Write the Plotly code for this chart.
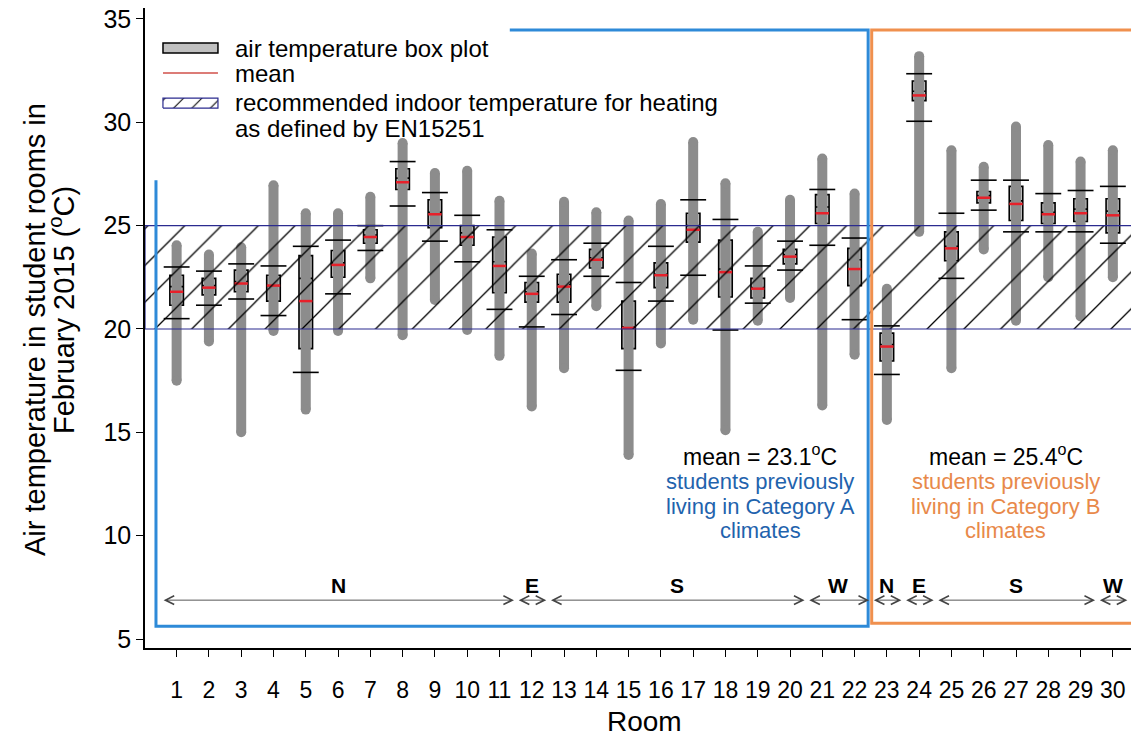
import plotly.graph_objects as go

rooms = list(range(1, 31))
data_min = [17.5, 19.4, 15.0, 19.9, 16.1, 19.9, 22.45, 19.7, 21.4, 19.95,
            18.7, 16.25, 18.1, 21.1, 13.9, 19.3, 20.45, 15.1, 20.4, 21.5,
            16.3, 18.75, 15.6, 24.7, 18.1, 23.85, 20.4, 22.5, 20.6, 22.5]
data_max = [24.05, 23.6, 23.95, 26.95, 25.6, 25.6, 26.4, 29.0, 27.55, 27.65,
            26.2, 23.65, 26.15, 25.65, 25.25, 26.05, 29.05, 27.05, 24.7, 26.25,
            28.25, 26.55, 21.95, 33.2, 28.65, 27.85, 29.8, 28.9, 28.1, 28.65]
whisk_lo = [20.5, 21.15, 21.45, 20.65, 17.9, 21.7, 23.8, 25.95, 24.25, 23.25,
            20.95, 20.1, 20.7, 22.55, 18.0, 21.35, 22.6, 19.95, 21.25, 22.85,
            24.05, 20.45, 17.8, 30.05, 22.45, 25.75, 24.7, 24.7, 24.7, 24.15]
whisk_hi = [23.0, 22.8, 23.15, 23.05, 24.0, 24.3, 25.0, 28.1, 26.6, 25.5,
            24.8, 22.55, 23.35, 24.15, 22.25, 24.0, 26.25, 25.3, 23.05, 24.25,
            26.75, 24.4, 20.15, 32.35, 25.6, 27.2, 27.2, 26.55, 26.7, 26.9]
q1 = [21.15, 21.65, 21.8, 21.35, 19.05, 22.5, 24.15, 26.75, 24.9, 24.05,
      21.75, 21.3, 21.3, 22.95, 19.05, 22.0, 24.2, 21.55, 21.5, 23.15,
      25.1, 22.1, 18.45, 31.05, 23.3, 26.1, 25.25, 25.1, 25.2, 24.65]
q3 = [22.6, 22.45, 22.85, 22.6, 23.55, 23.8, 24.8, 27.75, 26.25, 25.0,
      24.45, 22.25, 22.65, 23.85, 21.35, 23.2, 25.6, 24.3, 22.45, 23.85,
      26.5, 23.9, 19.8, 32.0, 24.7, 26.65, 26.9, 26.1, 26.3, 26.3]
median = [22.05, 22.1, 22.3, 22.1, 22.45, 23.2, 24.55, 27.3, 25.65, 24.65,
          23.25, 21.8, 22.15, 23.45, 20.1, 22.65, 25.0, 22.9, 22.0, 23.6,
          25.9, 23.35, 19.25, 31.5, 24.0, 26.45, 26.2, 25.65, 25.8, 25.7]
mean = [21.8, 22.0, 22.2, 22.1, 21.35, 23.1, 24.45, 27.1, 25.55, 24.45,
        23.05, 21.7, 22.05, 23.35, 20.05, 22.6, 24.8, 22.75, 21.95, 23.5,
        25.6, 22.9, 19.15, 31.3, 23.9, 26.35, 26.05, 25.55, 25.6, 25.5]

band_low, band_high = 20, 25
orientation_groups = [("N", 1, 11), ("E", 12, 12), ("S", 13, 20), ("W", 21, 22),
                      ("N", 23, 23), ("E", 24, 24), ("S", 25, 29), ("W", 30, 30)]
y_ticks = [5, 10, 15, 20, 25, 30, 35]
legend_labels = ["air temperature box plot", "mean",
                 "recommended indoor temperature for heating", "as defined by EN15251"]

FONT = "Liberation Sans, Arial, sans-serif"
XR = [0.02, 30.81]
YR = [4.565, 35.53]
NAVY = "#2b2b8f"

fig = go.Figure()

# full data range (outlier bands)
rx, ry = [], []
for r, lo, hi in zip(rooms, data_min, data_max):
    rx += [r, r, None]
    ry += [lo, hi, None]
fig.add_trace(go.Scatter(x=rx, y=ry, mode="lines+markers",
                         line=dict(color="#8c8c8c", width=10),
                         marker=dict(color="#8c8c8c", size=10),
                         showlegend=False, hoverinfo="skip"))

# boxes
fig.add_trace(go.Box(x=rooms, q1=q1, median=median, q3=q3,
                     lowerfence=whisk_lo, upperfence=whisk_hi,
                     boxpoints=False, width=0.42, whiskerwidth=0,
                     fillcolor="#c0c0c0", line=dict(color="black", width=1.6),
                     name="air temperature box plot", showlegend=False))

# whisker caps
fig.add_trace(go.Scatter(x=rooms + rooms, y=whisk_lo + whisk_hi, mode="markers",
                         marker=dict(symbol="line-ew", size=18.5,
                                     line=dict(color="black", width=1.6)),
                         showlegend=False, hoverinfo="skip"))

# means
fig.add_trace(go.Scatter(x=rooms, y=mean, mode="markers", name="mean",
                         marker=dict(symbol="line-ew", size=9.5,
                                     line=dict(color="#e8202a", width=2.5)),
                         showlegend=False))

# recommended band (hatched)
fig.add_trace(go.Scatter(x=[XR[0], XR[1], XR[1], XR[0], XR[0]],
                         y=[band_low, band_low, band_high, band_high, band_low],
                         mode="lines", fill="toself",
                         fillcolor="rgba(0,0,0,0)",
                         fillpattern=dict(shape="/", size=26, solidity=0.05,
                                          fgcolor="black", fgopacity=1,
                                          bgcolor="rgba(0,0,0,0)"),
                         line=dict(color=NAVY, width=1.2),
                         showlegend=False, hoverinfo="skip"))

# ---- hand-made legend (matches reference layout) ----
fig.add_shape(type="rect", xref="paper", yref="paper",
              x0=0.0181, x1=0.0734, y0=0.9297, y1=0.9453,
              fillcolor="#c0c0c0", line=dict(color="black", width=1.5))
fig.add_shape(type="line", xref="paper", yref="paper",
              x0=0.0181, x1=0.0734, y0=0.8984, y1=0.8984,
              line=dict(color="#d0504a", width=1.5))
fig.add_trace(go.Scatter(x=[0.576, 2.28, 2.28, 0.576, 0.576],
                         y=[30.69, 30.69, 31.17, 31.17, 30.69],
                         mode="lines", fill="toself", fillcolor="rgba(0,0,0,0)",
                         fillpattern=dict(shape="/", size=13, solidity=0.08,
                                          fgcolor="black", fgopacity=1,
                                          bgcolor="rgba(0,0,0,0)"),
                         line=dict(color=NAVY, width=1.2),
                         showlegend=False, hoverinfo="skip"))
for lab, py in zip(legend_labels, [0.9375, 0.8984, 0.8516, 0.8125]):
    fig.add_annotation(x=0.0885, y=py, xref="paper", yref="paper",
                       xanchor="left", yanchor="middle", showarrow=False,
                       text=lab, font=dict(family=FONT, size=24, color="black"))

# group boxes (blue / orange)
blue = "#2e8ad8"
orange = "#f0904e"
fig.add_shape(type="path", xref="x", yref="y",
              path="M 0.36,27.2 L 0.36,5.62 L 22.42,5.62 L 22.42,34.46 L 11.32,34.46",
              line=dict(color=blue, width=3))
fig.add_shape(type="rect", xref="x", yref="y", x0=22.53, x1=30.67, y0=5.76, y1=34.46,
              line=dict(color=orange, width=3))

# orientation arrows
for lab, a, b in orientation_groups:
    x0, x1 = a - 0.45, b + 0.45
    fig.add_annotation(x=x1, y=6.88, ax=x0, ay=6.88, xref="x", yref="y",
                       axref="x", ayref="y", text="", showarrow=True,
                       arrowhead=5, startarrowhead=5, arrowside="end+start",
                       arrowsize=1.9, startarrowsize=1.9, arrowwidth=0.9,
                       arrowcolor="#444444", standoff=0, startstandoff=0)
    fig.add_annotation(x=(a + b) / 2, y=7.6, xref="x", yref="y",
                       text="<b>%s</b>" % lab, showarrow=False,
                       font=dict(family=FONT, size=21, color="black"))

# text annotations
def block(xc, color, lines):
    fig.add_annotation(x=xc, y=13.9, xref="x", yref="y", showarrow=False,
                       text=lines[0], font=dict(family=FONT, size=23, color="black"))
    for t, yv in zip(lines[1:], [12.6, 11.39, 10.27]):
        fig.add_annotation(x=xc, y=yv, xref="x", yref="y", showarrow=False,
                           text=t, font=dict(family=FONT, size=22, color=color))

block(19.07, "#1f63ad", ["mean = 23.1<sup>o</sup>C", "students previously",
                         "living in Category A", "climates"])
block(26.69, "#e8894a", ["mean = 25.4<sup>o</sup>C", "students previously",
                         "living in Category B", "climates"])

# axis titles
fig.add_annotation(x=0.503, y=-0.1156, xref="paper", yref="paper", showarrow=False,
                   text="Room", xanchor="center", yanchor="middle",
                   font=dict(family=FONT, size=28, color="black"))
fig.add_annotation(x=-0.1107, y=0.4984, xref="paper", yref="paper", showarrow=False,
                   text="Air temperature in student rooms in", textangle=-90,
                   xanchor="center", yanchor="middle",
                   font=dict(family=FONT, size=29, color="black"))
fig.add_annotation(x=-0.0835, y=0.5281, xref="paper", yref="paper", showarrow=False,
                   text="February 2015 (<sup>o</sup>C)", textangle=-90,
                   xanchor="center", yanchor="middle",
                   font=dict(family=FONT, size=29, color="black"))

fig.update_layout(
    width=1131, height=729,
    margin=dict(l=137, r=0, t=0, b=89),
    plot_bgcolor="white", paper_bgcolor="white",
    font=dict(family=FONT, size=23, color="black"),
    showlegend=False,
    xaxis=dict(range=XR, tickmode="array", tickvals=rooms,
               ticktext=[str(r) for r in rooms], automargin=False,
               showline=True, linecolor="black", linewidth=1.5,
               ticks="outside", ticklen=7, tickcolor="black",
               showgrid=False, zeroline=False, ticklabelstandoff=14,
               tickfont=dict(size=23)),
    yaxis=dict(range=YR, tickmode="array", tickvals=y_ticks, automargin=False,
               showline=True, linecolor="black", linewidth=1.5,
               ticks="outside", ticklen=7, tickcolor="black",
               showgrid=False, zeroline=False, ticklabeloverflow="allow",
               tickfont=dict(size=25)),
)

fig.write_html("out.html")
